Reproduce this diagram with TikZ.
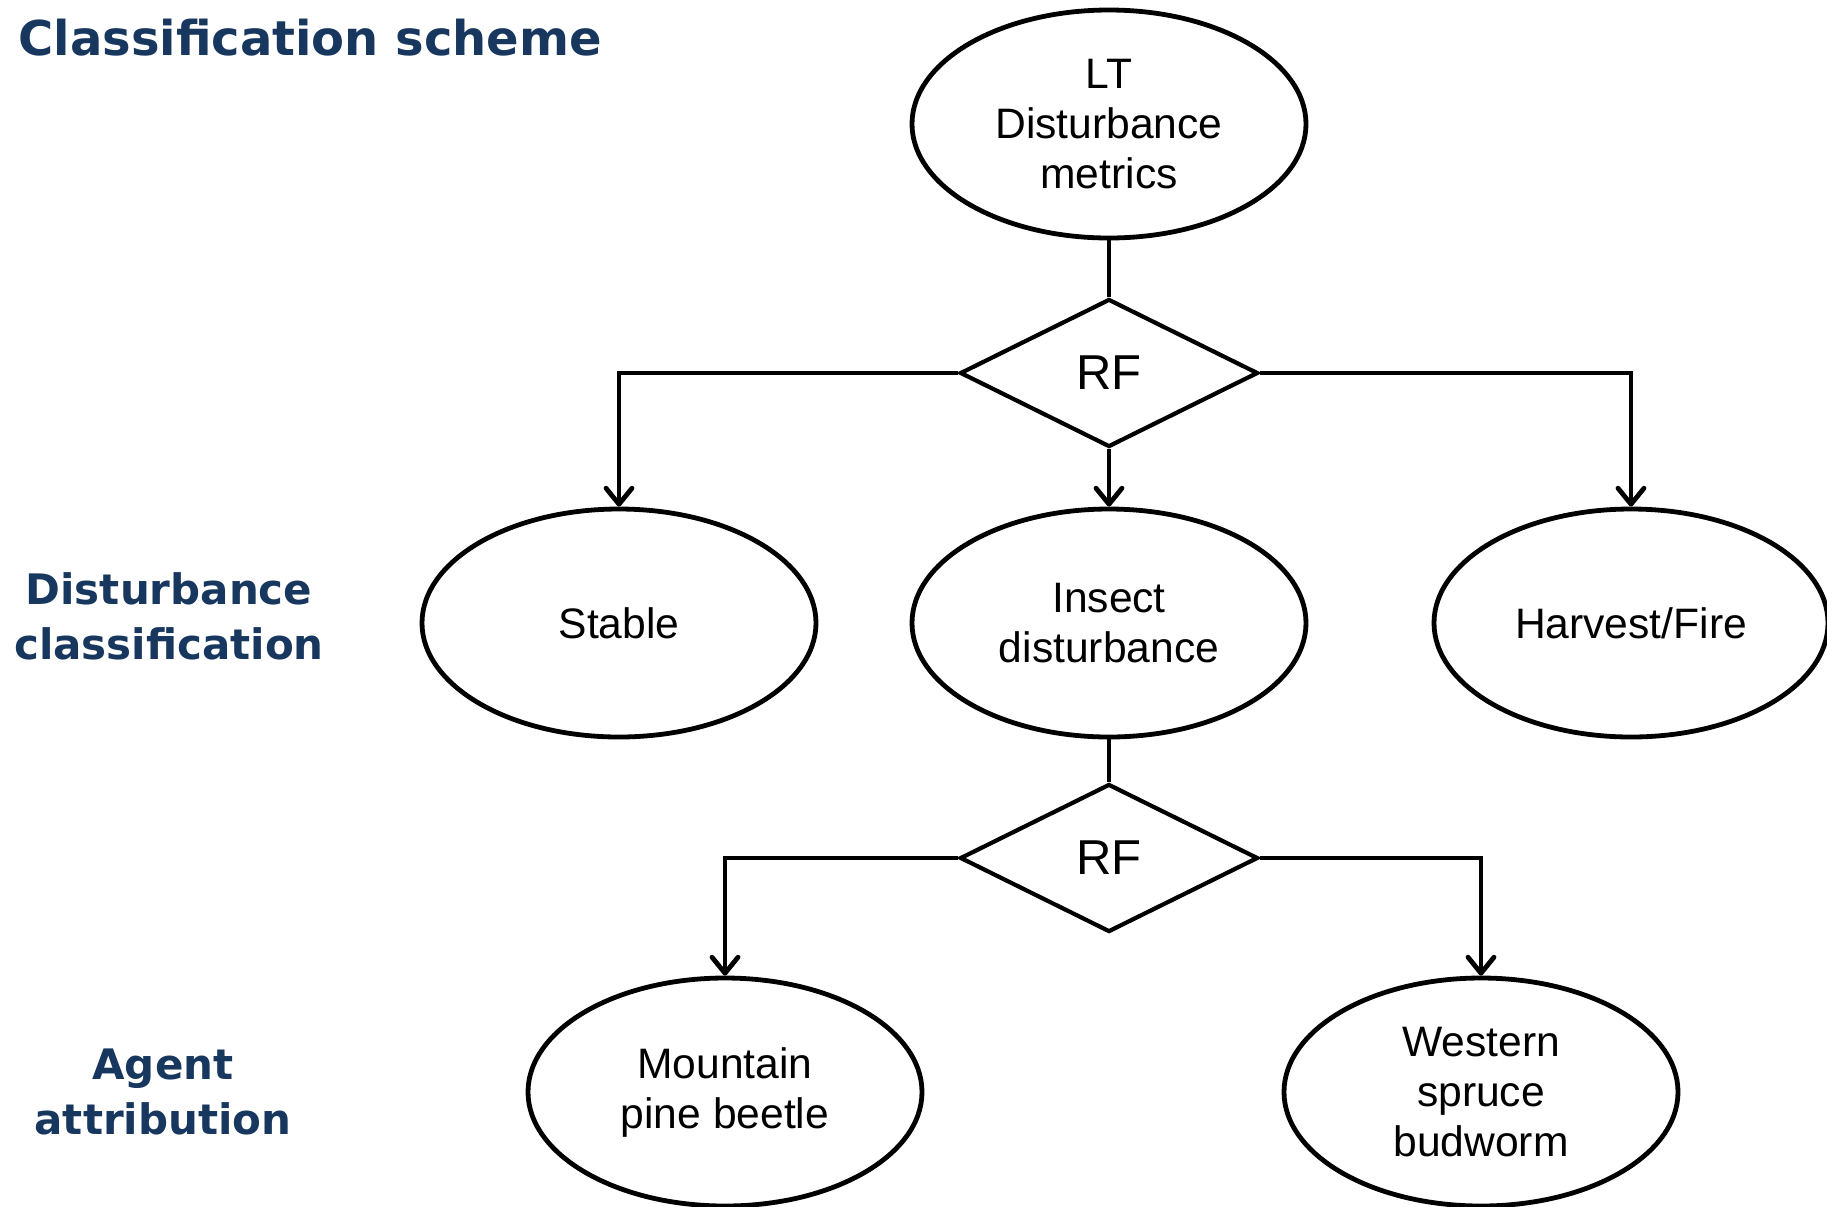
\documentclass[tikz,border=0pt]{standalone}
\usepackage{fontspec}
\setmainfont{Liberation Sans}
\newfontfamily\headfont{DejaVu Sans}
\usetikzlibrary{arrows.meta, positioning, shapes.geometric}
\definecolor{colour_head}{HTML}{17375E}

\begin{document}
\begin{tikzpicture}
   [
      x=0.5pt, y=-0.5pt,
      state/.style={ellipse, draw, line width=2.4pt, minimum width=197pt, minimum height=114pt, inner sep=0pt, align=center, font=\fontsize{21.3pt}{25pt}\selectfont},
      decision/.style={diamond, draw, line width=2.1pt, minimum width=149pt, minimum height=74pt, inner sep=0pt, font=\fontsize{24.5pt}{29pt}\selectfont},
      flow/.style={line width=2.4pt},
      arrow/.style={flow, -{Straight Barb[length=8pt, width=13pt, round]}},
      level label/.style={text=colour_head, align=center, inner sep=0pt, font=\headfont\bfseries\fontsize{21pt}{27.5pt}\selectfont}
   ]

   \useasboundingbox (0,0) rectangle (1827,1206);

   % =======================================================
   % Headings on the left
   % =======================================================

   \node[level label, anchor=west, font=\headfont\bfseries\fontsize{24pt}{30pt}\selectfont] (title) at (18,38) {Classification scheme};
   \node[level label] (lbl_class) at (169,616) {Disturbance\\classification};
   \node[level label] (lbl_agent) at (163,1092) {Agent\\attribution};

   % =======================================================
   % Top: metrics and first RF
   % =======================================================

   \node[state] (lt_metrics) at (1109,124) {LT\\Disturbance\\metrics};
   \node[decision] (rf_top) at (1109,373) {RF};

   % =======================================================
   % Middle row: disturbance classes
   % =======================================================

   \node[state] (stable) at (619,623) {Stable};
   \node[state] (insect) at (1109,623) {Insect\\disturbance};
   \node[state] (harvest) at (1631,623) {Harvest/Fire};

   % =======================================================
   % Bottom: second RF and agents
   % =======================================================

   \node[decision] (rf_bottom) at (1109,858) {RF};
   \node[state] (mpb) at (725,1092) {Mountain\\pine beetle};
   \node[state] (wsb) at (1481,1092) {Western\\spruce\\budworm};

   % =======================================================
   % Connectors
   % =======================================================

   \draw[flow] (lt_metrics.south) -- (rf_top.north);
   \draw[arrow] (rf_top.south) -- (insect.north);
   \draw[arrow] (rf_top.west) -| (stable.north);
   \draw[arrow] (rf_top.east) -| (harvest.north);

   \draw[flow] (insect.south) -- (rf_bottom.north);
   \draw[arrow] (rf_bottom.west) -| (mpb.north);
   \draw[arrow] (rf_bottom.east) -| (wsb.north);

\end{tikzpicture}
\end{document}
